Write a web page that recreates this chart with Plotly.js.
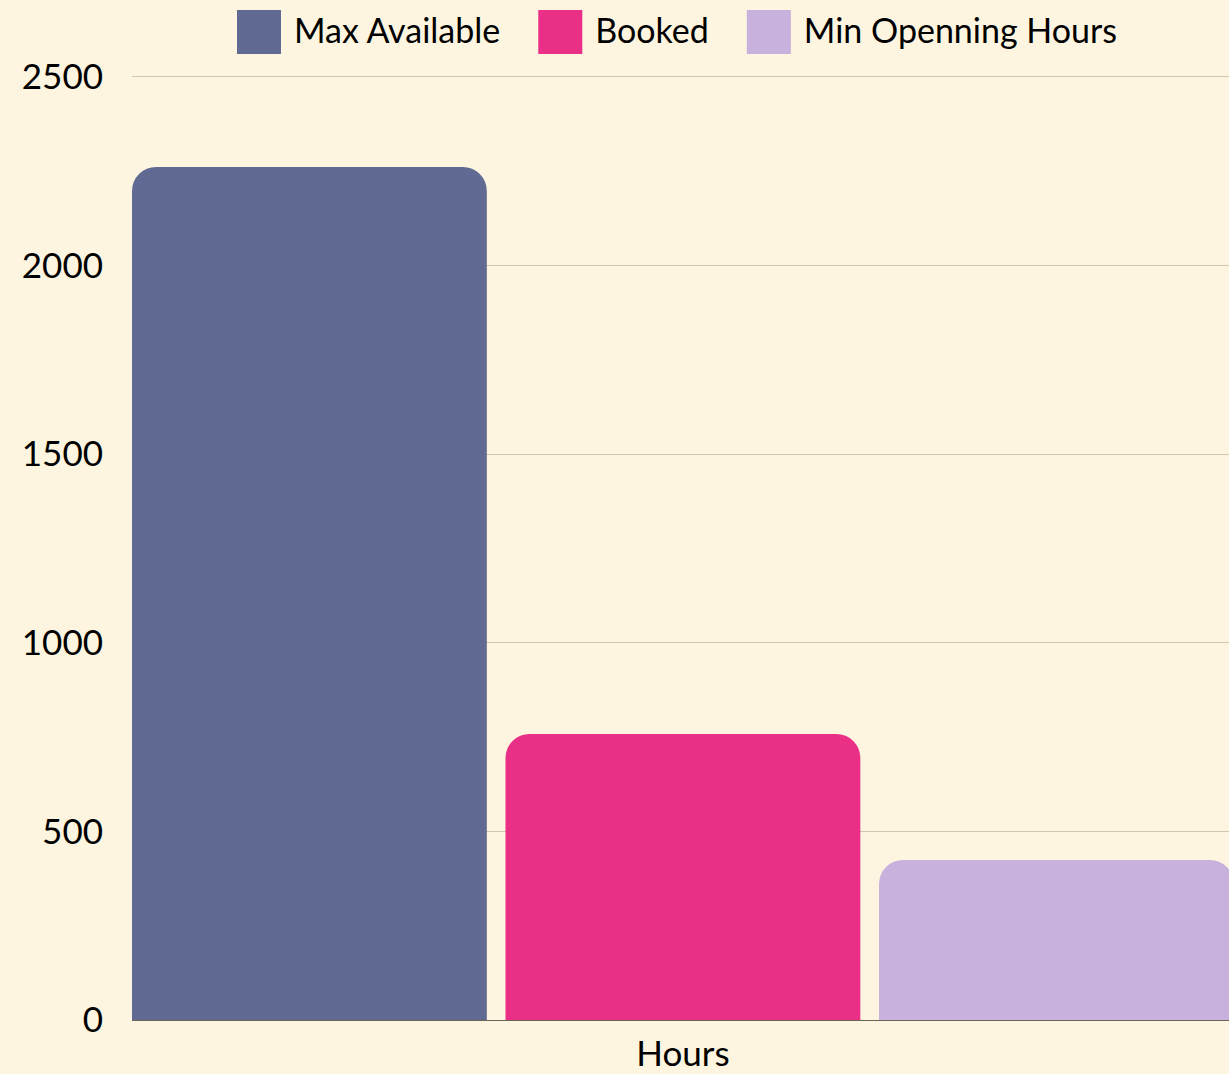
<!DOCTYPE html>
<html>
<head>
<meta charset="utf-8">
<script src="https://cdn.plot.ly/plotly-3.0.1.min.js"></script>
<style>
  html, body { margin: 0; padding: 0; background: #fdf5df; }
  #chart { width: 1229px; height: 1074px; }
</style>
</head>
<body>
<div id="chart"></div>
<script>
// ---- data ----
const categories = ['Hours'];
const seriesNames = ['Max Available', 'Booked', 'Min Openning Hours'];
const maxAvailable = [2261];
const booked = [758];
const minOpenningHours = [424];
const seriesColors = ['#616a93', '#ea2f87', '#c8b1dc'];
const yTicks = [0, 500, 1000, 1500, 2000, 2500];

const seriesValues = [maxAvailable, booked, minOpenningHours];
const traces = seriesNames.map((name, i) => ({
  type: 'bar',
  name: name,
  x: categories,
  y: seriesValues[i],
  marker: { color: seriesColors[i], line: { width: 0 } },
  hoverinfo: 'name+y'
}));

const FONT = 'Lato, "Open Sans", sans-serif';

const layout = {
  width: 1229,
  height: 1074,
  paper_bgcolor: '#fdf5df',
  plot_bgcolor: '#fdf5df',
  font: { family: FONT, size: 34, color: '#000000' },
  margin: { l: 132, r: 0, t: 73, b: 54, pad: 0 },
  barmode: 'group',
  bargap: 0,
  bargroupgap: 0.05,
  barcornerradius: 24,
  showlegend: true,
  legend: {
    orientation: 'h',
    x: 0.5,
    xanchor: 'center',
    xref: 'paper',
    y: 1,
    yanchor: 'top',
    yref: 'container',
    font: { family: FONT, size: 34, color: '#000000' },
    itemwidth: 60,
    bgcolor: 'rgba(0,0,0,0)',
    traceorder: 'normal'
  },
  xaxis: {
    type: 'category',
    range: [-0.49167, 0.48736],
    showgrid: false,
    zeroline: false,
    showline: false,
    ticks: '',
    ticklabelstandoff: 10,
    tickfont: { family: FONT, size: 35, color: '#000000' },
    fixedrange: true
  },
  yaxis: {
    range: [0, 2510],
    tickvals: yTicks,
    ticktext: yTicks.map(String),
    showgrid: true,
    gridcolor: '#cfc7af',
    gridwidth: 1,
    zeroline: true,
    zerolinecolor: '#666659',
    zerolinewidth: 1,
    showline: false,
    ticks: '',
    ticklabelstandoff: 28,
    tickfont: { family: FONT, size: 35, color: '#000000' },
    fixedrange: true
  }
};

Plotly.newPlot('chart', traces, layout, { displayModeBar: false, staticPlot: true }).then(gd => {
  // enlarge legend swatches to match the reference's big square keys
  gd.querySelectorAll('.legend .legendpoints path').forEach(p => {
    p.setAttribute('d', 'M22,22H-22V-22H22Z');
  });
  // widen spacing between legend entries and place the legend as in the reference
  const extraGap = 20;
  gd.querySelectorAll('.legend .traces').forEach((g, i) => {
    const t = g.getAttribute('transform') || '';
    const m = t.match(/translate\(([-\d.]+)[ ,]+([-\d.]+)\)/);
    if (m) {
      g.setAttribute('transform', 'translate(' + (parseFloat(m[1]) + i * extraGap) + ',' + m[2] + ')');
    }
  });
  gd.querySelectorAll('.legend .legendtext').forEach(tx => {
    const y = parseFloat(tx.getAttribute('y') || '0');
    tx.setAttribute('y', y - 2);
  });
  gd.querySelectorAll('.legend .scrollbox').forEach(s => s.removeAttribute('clip-path'));
  const legend = gd.querySelector('.legend');
  const firstSwatch = gd.querySelector('.legend .legendpoints path');
  if (legend && firstSwatch) {
    const r = firstSwatch.getBoundingClientRect();
    const dx = 237 - r.left;
    const dy = 10 - r.top;
    const t = legend.getAttribute('transform') || '';
    const m = t.match(/translate\(([-\d.]+)[ ,]+([-\d.]+)\)/);
    if (m) {
      legend.setAttribute('transform', 'translate(' + (parseFloat(m[1]) + dx) + ',' + (parseFloat(m[2]) + dy) + ')');
    }
  }
});
</script>
</body>
</html>
